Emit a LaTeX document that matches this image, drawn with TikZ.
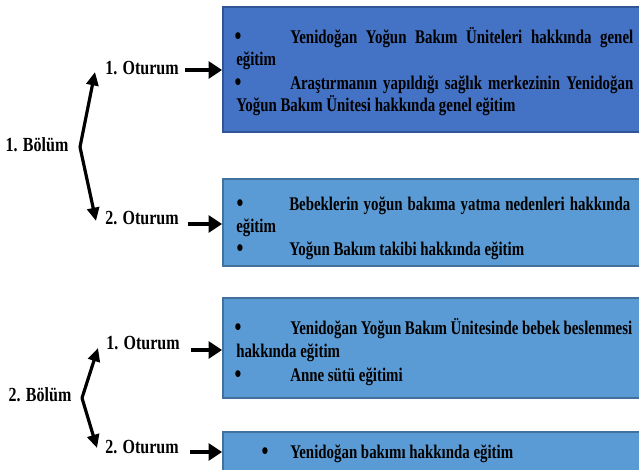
\documentclass[tikz,border=0pt]{standalone}
\usepackage{fontspec}
\setmainfont{Liberation Serif}[FakeStretch=0.77]
\newfontfamily\lblfont{Liberation Serif}[FakeStretch=0.8]
\usetikzlibrary{arrows.meta}
\definecolor{darkbox}{HTML}{4472C4}
\definecolor{darkedge}{HTML}{2F5597}
\definecolor{lightbox}{HTML}{5B9BD5}
\definecolor{lightedge}{HTML}{41719C}
\newlength{\pxu}\setlength{\pxu}{0.75pt}
\tikzset{
  boxA/.style={draw=darkedge, fill=darkbox, line width=1pt},
  boxB/.style={draw=lightedge, fill=lightbox, line width=1pt},
  txt/.style={inner sep=0pt, font=\fontsize{14.5pt}{17pt}\selectfont\bfseries, text=black},
  lbl/.style={inner sep=0pt, font=\lblfont\fontsize{15pt}{17pt}\selectfont\bfseries, text=black},
  bul/.style={inner sep=0pt, font=\fontsize{19pt}{20pt}\selectfont\bfseries},
  fatarrow/.style={line width=3.4pt, -{Triangle[length=10pt, width=12.5pt]}},
  brarrow/.style={line width=2.4pt, -{Triangle[length=10pt, width=9pt]}},
}
\begin{document}
\begin{tikzpicture}[x=0.75pt, y=-0.75pt]
\useasboundingbox (0,0) rectangle (639,469);
% boxes
\path[boxA] (223,7) rectangle (660,132);
\path[boxB] (223,179) rectangle (660,266);
\path[boxB] (223,298) rectangle (660,398);
\path[boxB] (223,432) rectangle (660,480);
\node[inner sep=0pt] (b1) at (223,70) {};
\node[inner sep=0pt] (b2) at (223,224) {};
\node[inner sep=0pt] (b3) at (223,350) {};
\node[inner sep=0pt] (b4) at (223,452) {};

% box 1 text
\node[bul, anchor=base] (p1a) at (238,44) {•};
\node[txt, anchor=base west] (t1a) at (290,43) {\makebox[343\pxu][s]{Yenidoğan Yoğun Bakım Üniteleri hakkında genel}};
\node[txt, anchor=base west] (t1b) at (236,65) {eğitim};
\node[bul, anchor=base] (p1b) at (238,90) {•};
\node[txt, anchor=base west] (t1c) at (290,89) {\makebox[343\pxu][s]{Araştırmanın yapıldığı sağlık merkezinin Yenidoğan}};
\node[txt, anchor=base west] (t1d) at (236,111) {Yoğun Bakım Ünitesi hakkında genel eğitim};

% box 2 text
\node[bul, anchor=base] (p2a) at (240,211) {•};
\node[txt, anchor=base west] (t2a) at (289,210) {\makebox[341\pxu][s]{Bebeklerin yoğun bakıma yatma nedenleri hakkında}};
\node[txt, anchor=base west] (t2b) at (236,232) {eğitim};
\node[bul, anchor=base] (p2b) at (240,256) {•};
\node[txt, anchor=base west] (t2c) at (289,255) {Yoğun Bakım takibi hakkında eğitim};

% box 3 text
\node[bul, anchor=base] (p3a) at (238,335) {•};
\node[txt, anchor=base west] (t3a) at (290,334) {\makebox[342\pxu][s]{Yenidoğan Yoğun Bakım Ünitesinde bebek beslenmesi}};
\node[txt, anchor=base west] (t3b) at (236,357) {hakkında eğitim};
\node[bul, anchor=base] (p3b) at (238,382) {•};
\node[txt, anchor=base west] (t3c) at (290,381) {Anne sütü eğitimi};

% box 4 text
\node[bul, anchor=base] (p4a) at (265,459) {•};
\node[txt, anchor=base west] (t4a) at (290,458) {Yenidoğan bakımı hakkında eğitim};

% left labels
\node[lbl] (bol1) at (37,145) {1. Bölüm};
\node[lbl] (otu11) at (142,68) {1. Oturum};
\node[lbl] (otu12) at (142,218) {2. Oturum};
\node[lbl] (bol2) at (40,395) {2. Bölüm};
\node[lbl] (otu21) at (143,343) {1. Oturum};
\node[lbl] (otu22) at (142,447) {2. Oturum};

% branch points
\coordinate (v1) at (80,147);
\coordinate (u1) at (95,72);
\coordinate (d1) at (96,221);
\coordinate (v2) at (82,398);
\coordinate (u2) at (98,348);
\coordinate (d2) at (97,448);

\draw[brarrow] (v1) -- (u1);
\draw[brarrow] (v1) -- (d1);
\draw[brarrow] (v2) -- (u2);
\draw[brarrow] (v2) -- (d2);

% right arrows
\coordinate (s1) at (185,70);
\coordinate (s2) at (188,224);
\coordinate (s3) at (191,350);
\coordinate (s4) at (190,452);
\draw[fatarrow] (s1) -- (b1);
\draw[fatarrow] (s2) -- (b2);
\draw[fatarrow] (s3) -- (b3);
\draw[fatarrow] (s4) -- (b4);
\end{tikzpicture}
\end{document}
